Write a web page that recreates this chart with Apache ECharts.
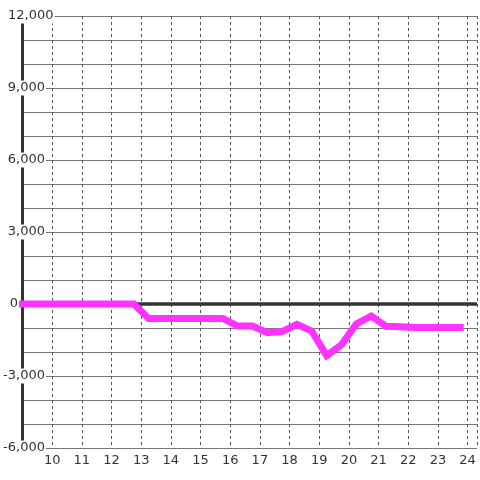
<!DOCTYPE html>
<html>
<head>
<meta charset="utf-8">
<script src="https://cdn.jsdelivr.net/npm/echarts@6/dist/echarts.min.js"></script>
<style>
html,body{margin:0;padding:0;background:#fff;}
#c{width:480px;height:480px;}
</style>
</head>
<body>
<div id="c"></div>
<script>
const hours = [9, 9.25, 9.75, 10.25, 10.75, 11.25, 11.75, 12.25, 12.75, 13.25, 13.75, 14.25, 14.75, 15.25, 15.75,
  16.25, 16.75, 17.25, 17.75, 18.25, 18.75, 19.25, 19.75, 20.25, 20.75, 21.25, 21.75, 22.25, 22.75, 23.25, 23.75];
const values = [0, 0, 0, 0, 0, 0, 0, 0, 0, -600, -600, -600, -600, -600, -600,
  -920, -920, -1200, -1150, -850, -1130, -2150, -1700, -830, -500, -930, -950, -980, -980, -980, -980];
const xTickLabels = [10, 11, 12, 13, 14, 15, 16, 17, 18, 19, 20, 21, 22, 23, 24];
const yTickLabels = [-6000, -3000, 0, 3000, 6000, 9000, 12000];

const fmt = v => v.toLocaleString('en-US');
const chart = echarts.init(document.getElementById('c'), null, {renderer: 'canvas'});
const option = {
  animation: false,
  backgroundColor: '#fff',
  grid: {left: 20.5, right: 0, top: 16, bottom: 32, containLabel: false},
  xAxis: {
    type: 'value',
    min: 9,
    max: 24.317,
    interval: 1,
    axisLine: {show: false},
    axisTick: {show: false},
    axisLabel: {
      margin: 6,
      fontFamily: 'DejaVu Sans',
      fontSize: 13,
      color: '#333',
      showMinLabel: true,
      showMaxLabel: true,
      formatter: v => (xTickLabels.indexOf(Math.round(v * 1000) / 1000) >= 0 ? String(v) : '')
    },
    splitLine: {show: true, lineStyle: {color: '#555', width: 1, type: [3, 3]}}
  },
  yAxis: {
    type: 'value',
    min: -6000,
    max: 12000,
    interval: 3000,
    axisLine: {show: true, onZero: false, lineStyle: {color: '#333', width: 3}},
    axisTick: {show: false},
    minorTick: {show: false, splitNumber: 3},
    minorSplitLine: {show: true, lineStyle: {color: '#777', width: 1}},
    splitLine: {show: true, lineStyle: {color: '#777', width: 1}},
    axisLabel: {
      align: 'left',
      margin: 19.5,
      fontFamily: 'DejaVu Sans',
      fontSize: 13,
      color: '#333',
      backgroundColor: '#fff',
      padding: [1, 1, 1, 0],
      formatter: v => {
        if (yTickLabels.indexOf(v) < 0) return '';
        if (v === 12000) return '{b|' + fmt(v) + '}';
        if (v === 0) return '{c|' + fmt(v) + '}';
        return '{a|' + fmt(v) + '}';
      },
      rich: {
        a: {width: 42, align: 'right', fontFamily: 'DejaVu Sans', fontSize: 13, color: '#333'},
        b: {padding: [0, 0, 0, 5], fontFamily: 'DejaVu Sans', fontSize: 13, color: '#333'},
        c: {width: 15, align: 'right', fontFamily: 'DejaVu Sans', fontSize: 13, color: '#333'}
      }
    }
  },
  series: [
    {
      type: 'line',
      data: [],
      z: 1,
      silent: true,
      markLine: {
        z: 1,
        silent: true,
        symbol: ['none', 'none'],
        label: {show: false},
        lineStyle: {color: '#333', width: 3.5, type: 'solid'},
        data: [{yAxis: 0}]
      }
    },
    {
      type: 'line',
      z: 3,
      data: hours.map((h, i) => [h, values[i]]),
      showSymbol: false,
      symbol: 'none',
      clip: false,
      lineStyle: {color: '#ff33ff', width: 7, cap: 'square', join: 'miter'}
    }
  ]
};
chart.setOption(option);
</script>
</body>
</html>
